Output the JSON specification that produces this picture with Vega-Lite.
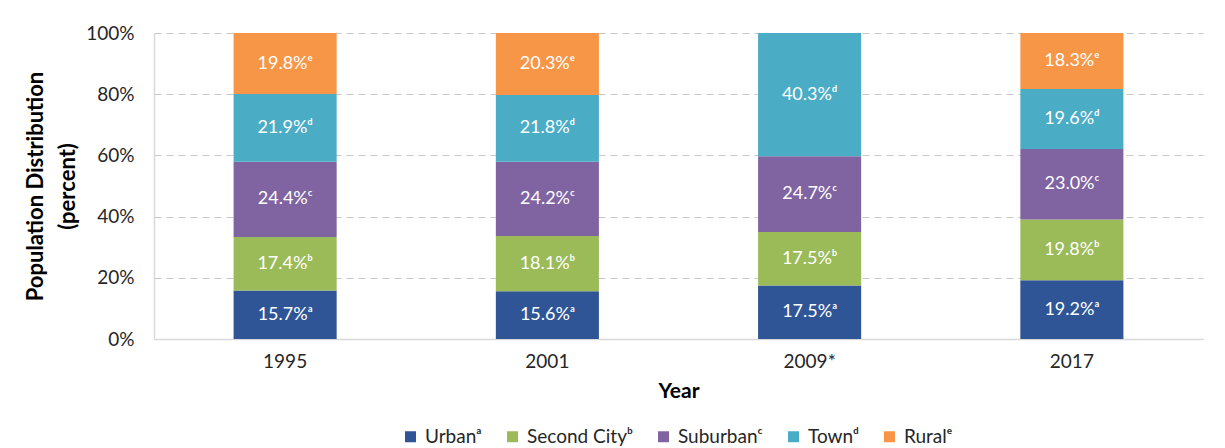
{
  "$schema": "https://vega.github.io/schema/vega-lite/v6.json",
  "width": 1049,
  "height": 306,
  "autosize": "none",
  "padding": {"left": 154, "top": 33, "right": 22, "bottom": 109},
  "background": "white",
  "config": {
    "font": "Lato",
    "view": {"stroke": null},
    "axis": {"labelFont": "Lato", "titleFont": "Lato", "labelColor": "#262626", "titleColor": "#000000"}
  },
  "data": {
    "values": [
      {"year": "1995", "category": "Urbanᵃ", "order": 1, "value": 15.7, "label": "15.7%ᵃ"},
      {"year": "1995", "category": "Second Cityᵇ", "order": 2, "value": 17.4, "label": "17.4%ᵇ"},
      {"year": "1995", "category": "Suburbanᶜ", "order": 3, "value": 24.4, "label": "24.4%ᶜ"},
      {"year": "1995", "category": "Townᵈ", "order": 4, "value": 21.9, "label": "21.9%ᵈ"},
      {"year": "1995", "category": "Ruralᵉ", "order": 5, "value": 19.8, "label": "19.8%ᵉ"},
      {"year": "2001", "category": "Urbanᵃ", "order": 1, "value": 15.6, "label": "15.6%ᵃ"},
      {"year": "2001", "category": "Second Cityᵇ", "order": 2, "value": 18.1, "label": "18.1%ᵇ"},
      {"year": "2001", "category": "Suburbanᶜ", "order": 3, "value": 24.2, "label": "24.2%ᶜ"},
      {"year": "2001", "category": "Townᵈ", "order": 4, "value": 21.8, "label": "21.8%ᵈ"},
      {"year": "2001", "category": "Ruralᵉ", "order": 5, "value": 20.3, "label": "20.3%ᵉ"},
      {"year": "2009*", "category": "Urbanᵃ", "order": 1, "value": 17.5, "label": "17.5%ᵃ"},
      {"year": "2009*", "category": "Second Cityᵇ", "order": 2, "value": 17.5, "label": "17.5%ᵇ"},
      {"year": "2009*", "category": "Suburbanᶜ", "order": 3, "value": 24.7, "label": "24.7%ᶜ"},
      {"year": "2009*", "category": "Townᵈ", "order": 4, "value": 40.3, "label": "40.3%ᵈ"},
      {"year": "2017", "category": "Urbanᵃ", "order": 1, "value": 19.2, "label": "19.2%ᵃ"},
      {"year": "2017", "category": "Second Cityᵇ", "order": 2, "value": 19.8, "label": "19.8%ᵇ"},
      {"year": "2017", "category": "Suburbanᶜ", "order": 3, "value": 23.0, "label": "23.0%ᶜ"},
      {"year": "2017", "category": "Townᵈ", "order": 4, "value": 19.6, "label": "19.6%ᵈ"},
      {"year": "2017", "category": "Ruralᵉ", "order": 5, "value": 18.3, "label": "18.3%ᵉ"}
    ]
  },
  "transform": [
    {"stack": "value", "groupby": ["year"], "sort": [{"field": "order", "order": "ascending"}], "offset": "normalize", "as": ["v0", "v1"]}
  ],
  "encoding": {
    "x": {
      "field": "year", "type": "nominal",
      "sort": ["1995", "2001", "2009*", "2017"],
      "scale": {"paddingInner": 0.607, "paddingOuter": 0.3035},
      "axis": {
        "title": "Year", "labelAngle": 0, "labelFontSize": 19, "labelPadding": 13,
        "ticks": false, "tickSize": 0, "domainColor": "#d9d9d9", "domainWidth": 1.5,
        "titleFontSize": 21, "titleFontWeight": "bold", "titlePadding": 9
      }
    }
  },
  "layer": [
    {
      "mark": {"type": "bar"},
      "encoding": {
        "y": {
          "field": "v0", "type": "quantitative",
          "scale": {"domain": [0, 1]},
          "axis": {
            "title": ["Population Distribution", "(percent)"],
            "format": ".0%", "values": [0, 0.2, 0.4, 0.6, 0.8, 1],
            "labelFontSize": 19, "labelPadding": 20, "ticks": false, "tickSize": 0,
            "labelOverlap": false,
            "domainColor": "#d9d9d9", "domainWidth": 1.5,
            "gridColor": "#c8c8c8", "gridDash": [7, 5], "gridWidth": 1.2,
            "titleFontSize": 22, "titleFontWeight": "bold", "titleLineHeight": 32,
            "titleAngle": -90, "titleAlign": "center", "titleBaseline": "middle",
            "titleX": -119, "titleY": 153
          }
        },
        "y2": {"field": "v1"},
        "color": {
          "field": "category", "type": "nominal",
          "scale": {
            "domain": ["Urbanᵃ", "Second Cityᵇ", "Suburbanᶜ", "Townᵈ", "Ruralᵉ"],
            "range": ["#2F5597", "#9BBB59", "#8064A2", "#4BACC6", "#F79646"]
          },
          "legend": {
            "title": null, "orient": "none", "direction": "horizontal",
            "legendX": 247, "legendY": 394,
            "symbolType": "square", "symbolSize": 121, "symbolStrokeWidth": 0, "symbolOpacity": 1,
            "labelFontSize": 19, "labelColor": "#262626", "labelFont": "Lato",
            "columnPadding": 21, "symbolOffset": 0, "labelOffset": 5
          }
        }
      }
    },
    {
      "transform": [{"fold": ["v0", "v1"], "as": ["edge", "pos"]}],
      "mark": {"type": "text", "color": "white", "fontSize": 18, "font": "Lato", "baseline": "middle"},
      "encoding": {
        "y": {"field": "pos", "type": "quantitative", "aggregate": "mean"},
        "text": {"field": "label"}
      }
    }
  ]
}
